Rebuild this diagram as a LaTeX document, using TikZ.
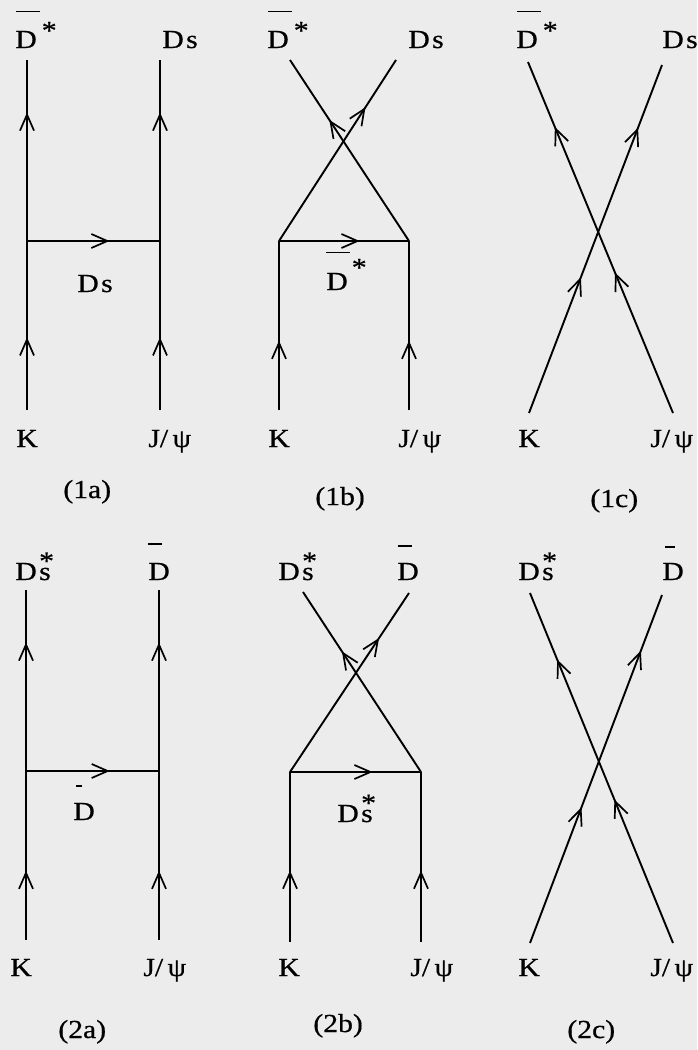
\documentclass[tikz,border=0pt]{standalone}
\usepackage{fontspec}
\setmainfont{Liberation Serif}[FakeStretch=1.14,FakeBold=0.6]
\usetikzlibrary{arrows.meta,decorations.markings}
\definecolor{paper}{RGB}{236,236,236}
\tikzset{
  prop/.style={line width=0.95pt, draw=black},
  ar/.style={postaction={decorate,decoration={markings,
      mark=at position #1 with {\arrow{Straight Barb[length=8pt,width=7pt,line width=0.85pt]}}}}},
  lbl/.style={anchor=base west, inner sep=0pt, font=\fontsize{13}{15}\selectfont},
}
\newcommand{\ovb}[3]{\makebox[0pt][l]{\hspace*{#1}\rule[#3]{#2}{0.9pt}}}
\newcommand{\DbStar}{\ovb{0.5pt}{12pt}{17.8pt}D\hspace{2.5pt}\raisebox{4.5pt}{*}}
\newcommand{\DbStarMid}{\ovb{0pt}{12pt}{18.3pt}D\hspace{2pt}\raisebox{7pt}{*}}
\newcommand{\Dsx}{D\hspace{1.2pt}s}
\newcommand{\DsStar}{D\hspace{1.2pt}\makebox[0pt][l]{\raisebox{5.2pt}{*}}s}
\newcommand{\Jpsi}{J/\,ψ}
\begin{document}
\begin{tikzpicture}[x=0.5pt,y=-0.5pt]
\fill[paper] (0,0) rectangle (697,1050);
\useasboundingbox (0,0) rectangle (697,1050);

% ---------- (1a)
\coordinate (a1K) at (27,410); \coordinate (a1L) at (27,241); \coordinate (a1T) at (27,60);
\coordinate (a1J) at (160,410); \coordinate (a1R) at (160,241); \coordinate (a1U) at (160,60);
\draw[prop,ar=0.43] (a1K) -- (a1L);
\draw[prop,ar=0.71] (a1L) -- (a1T);
\draw[prop,ar=0.43] (a1J) -- (a1R);
\draw[prop,ar=0.71] (a1R) -- (a1U);
\draw[prop,ar=0.62] (a1L) -- (a1R);
\node[lbl] (a1tl) at (15,48) {\DbStar};
\node[lbl] (a1tr) at (162,48) {\Dsx};
\node[lbl] (a1m) at (77,292) {\Dsx};
\node[lbl] (a1bl) at (16,447) {K};
\node[lbl] (a1br) at (148,447) {\Jpsi};
\node[lbl] (a1c) at (63,498) {(1a)};

% ---------- (1b)
\coordinate (b1K) at (279,410); \coordinate (b1L) at (279,241); \coordinate (b1T) at (396,60);
\coordinate (b1J) at (409,410); \coordinate (b1R) at (409,241); \coordinate (b1U) at (290,60);
\draw[prop,ar=0.41] (b1K) -- (b1L);
\draw[prop,ar=0.41] (b1J) -- (b1R);
\draw[prop,ar=0.62] (b1L) -- (b1R);
\draw[prop,ar=0.74] (b1L) -- (b1T);
\draw[prop,ar=0.67] (b1R) -- (b1U);
\node[lbl] (b1tl) at (267,48) {\DbStar};
\node[lbl] (b1tr) at (408,48) {\Dsx};
\node[lbl] (b1m) at (326,290) {\DbStarMid};
\node[lbl] (b1bl) at (268,447) {K};
\node[lbl] (b1br) at (398,447) {\Jpsi};
\node[lbl] (b1c) at (315,505) {(1b)};

% ---------- (1c)
\coordinate (c1K) at (529,413); \coordinate (c1T) at (662,65);
\coordinate (c1J) at (673,413); \coordinate (c1U) at (528,62);
\draw[prop,ar=0.39,ar=0.82] (c1K) -- (c1T);
\draw[prop,ar=0.40,ar=0.815] (c1J) -- (c1U);
\node[lbl] (c1tl) at (516,48) {\DbStar};
\node[lbl] (c1tr) at (662,48) {\Dsx};
\node[lbl] (c1bl) at (518,447) {K};
\node[lbl] (c1br) at (650,447) {\Jpsi};
\node[lbl] (c1c) at (590,507) {(1c)};

% ---------- (2a)
\coordinate (a2K) at (26,940); \coordinate (a2L) at (26,771); \coordinate (a2T) at (26,590);
\coordinate (a2J) at (159,940); \coordinate (a2R) at (159,771); \coordinate (a2U) at (159,590);
\draw[prop,ar=0.41] (a2K) -- (a2L);
\draw[prop,ar=0.71] (a2L) -- (a2T);
\draw[prop,ar=0.41] (a2J) -- (a2R);
\draw[prop,ar=0.71] (a2R) -- (a2U);
\draw[prop,ar=0.63] (a2L) -- (a2R);
\node[lbl] (a2tl) at (15,580) {\DsStar};
\node[lbl] (a2tr) at (148,580) {\ovb{0pt}{7pt}{17.5pt}D};
\node[lbl] (a2m) at (73,820) {\ovb{1.5pt}{3pt}{16.5pt}D};
\node[lbl] (a2bl) at (10,976) {K};
\node[lbl] (a2br) at (143,976) {\Jpsi};
\node[lbl] (a2c) at (58,1038) {(2a)};

% ---------- (2b)
\coordinate (b2K) at (290,942); \coordinate (b2L) at (290,772); \coordinate (b2T) at (409,593);
\coordinate (b2J) at (421,942); \coordinate (b2R) at (421,772); \coordinate (b2U) at (303,592);
\draw[prop,ar=0.42] (b2K) -- (b2L);
\draw[prop,ar=0.42] (b2J) -- (b2R);
\draw[prop,ar=0.63] (b2L) -- (b2R);
\draw[prop,ar=0.75] (b2L) -- (b2T);
\draw[prop,ar=0.67] (b2R) -- (b2U);
\node[lbl] (b2tl) at (278,580) {\DsStar};
\node[lbl] (b2tr) at (397,580) {\ovb{0.5pt}{7pt}{16.5pt}D};
\node[lbl] (b2m) at (337,822) {\DsStar};
\node[lbl] (b2bl) at (278,976) {K};
\node[lbl] (b2br) at (410,976) {\Jpsi};
\node[lbl] (b2c) at (313,1032) {(2b)};

% ---------- (2c)
\coordinate (c2K) at (530,943); \coordinate (c2T) at (662,595);
\coordinate (c2J) at (673,943); \coordinate (c2U) at (530,593);
\draw[prop,ar=0.39,ar=0.84] (c2K) -- (c2T);
\draw[prop,ar=0.41,ar=0.81] (c2J) -- (c2U);
\node[lbl] (c2tl) at (518,580) {\DsStar};
\node[lbl] (c2tr) at (662,580) {\ovb{1.5pt}{5pt}{16pt}D};
\node[lbl] (c2bl) at (518,976) {K};
\node[lbl] (c2br) at (650,976) {\Jpsi};
\node[lbl] (c2c) at (567,1038) {(2c)};
\end{tikzpicture}
\end{document}
